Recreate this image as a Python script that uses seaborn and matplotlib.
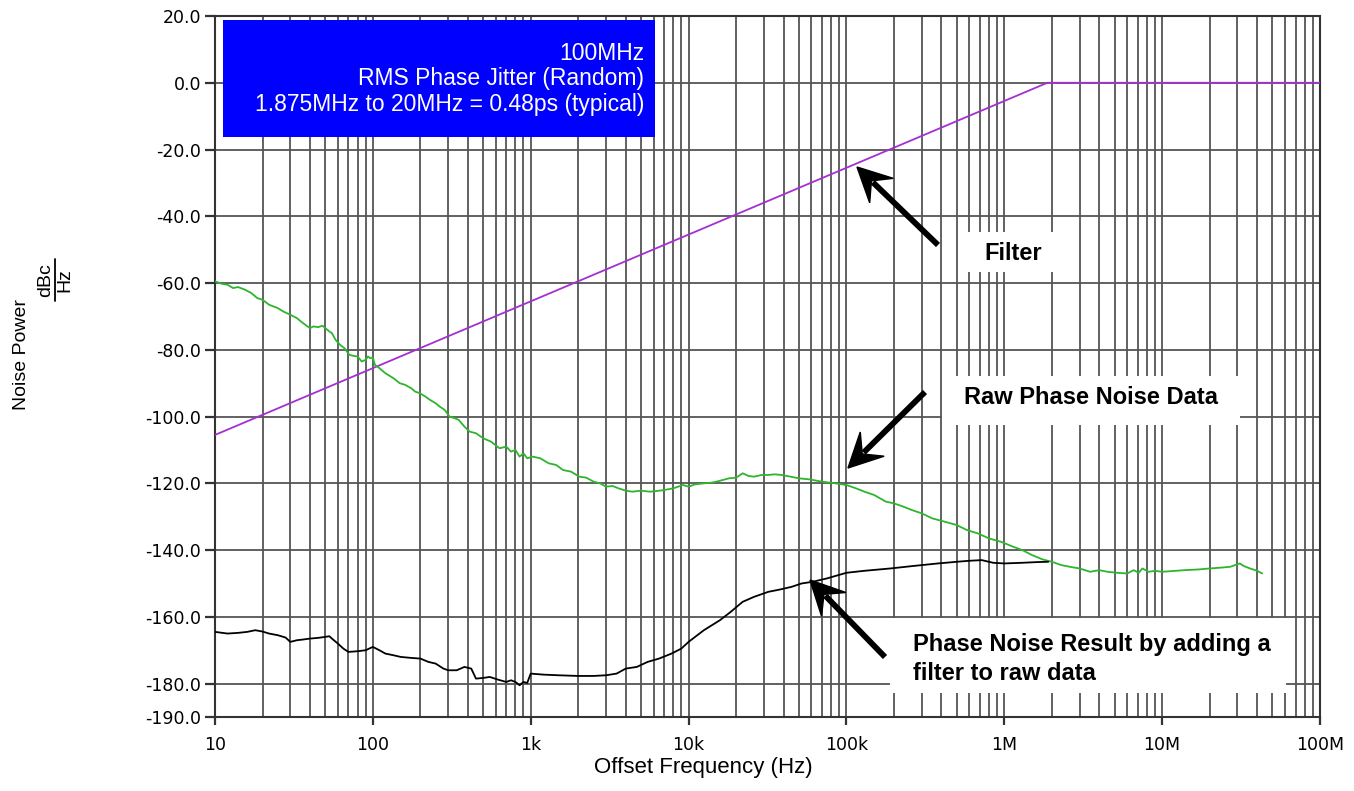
import numpy as np
import pandas as pd
import matplotlib
matplotlib.use("Agg")
import matplotlib.pyplot as plt
import matplotlib.patches as mpatches
import seaborn as sns

# ---------------- data ----------------
raw_freq = [10, 11, 12, 13, 14, 15.5, 17, 18.5, 20, 22, 25, 27, 30, 33, 35, 38, 40, 42, 45, 48,
            50, 53, 55, 58, 62, 66, 71, 75, 80, 85, 90, 93, 96, 100, 103, 110, 120, 135, 148, 160,
            175, 185, 198, 215, 230, 250, 265, 285, 306, 330, 350, 380, 410, 450, 500, 560, 635,
            700, 750, 800, 850, 900, 950, 1030, 1150, 1300, 1450, 1600, 1800, 2030, 2250, 2500,
            2750, 3000, 3300, 3600, 4000, 4400, 5000, 5700, 6300, 7000, 8000, 9200, 10000, 11000,
            12500, 14000, 15000, 16500, 18000, 20000, 22000, 24000, 26000, 29000, 32000, 35000,
            39000, 44000, 50000, 58000, 70000, 85000, 100000, 115000, 130000, 150000, 178000,
            200000, 230000, 260000, 300000, 350000, 420000, 500000, 580000, 680000, 800000,
            950000, 1140000, 1300000, 1500000, 1750000, 2000000, 2300000, 2600000, 3000000,
            3500000, 4000000, 4500000, 5200000, 6000000, 6600000, 7100000, 7500000, 8200000,
            9000000, 10000000, 11500000, 14000000, 17000000, 20000000, 23000000, 27000000,
            29000000, 31000000, 33000000, 36000000, 40000000, 43000000]
raw_db = [-59.5, -60.2, -60.5, -61.5, -61.2, -62, -63, -64.5, -65, -66.5, -67.5, -68.5, -69.5,
          -70.5, -71.5, -72.8, -73.5, -73, -73.2, -72.8, -73.5, -74.5, -75, -77, -78.5, -79.5,
          -81.5, -81.8, -82, -83.5, -83, -82, -82.5, -82.3, -84.5, -85.5, -87, -88.5, -90,
          -90.5, -91.5, -92.5, -93, -94, -95, -96, -97, -98, -100, -100.5, -101, -103, -104.5,
          -105, -106.5, -107.5, -109.5, -109, -110.5, -110, -112, -111, -112.5, -112, -112.5,
          -114, -114.5, -116, -116.5, -118, -118.3, -119.5, -120, -121, -120.8, -121.5, -122.2,
          -122.5, -122.2, -122.5, -122.3, -122, -121.5, -120.5, -121, -120.3, -120, -119.8,
          -119.5, -119, -118.5, -118.3, -117, -117.8, -118, -117.5, -117.5, -117.3, -117.5,
          -118, -118.5, -118.8, -119.5, -120, -120.5, -121.5, -122.5, -123.5, -125.5, -126,
          -127, -128, -129, -130.5, -131.5, -132.5, -134, -135, -136.5, -137.5, -139, -140,
          -141.5, -142.8, -143.5, -144.5, -145, -145.5, -146.5, -146, -146.5, -146.8, -147,
          -146, -146.8, -145.5, -146.5, -146.2, -146.5, -146.3, -146, -145.8, -145.5, -145.3,
          -145, -144.5, -144, -144.8, -145.5, -146.2, -147]

res_freq = [10, 12, 14, 16, 18, 20, 22, 25, 28, 30, 33, 36, 40, 45, 50, 53, 55, 60, 65, 70,
            80, 90, 100, 110, 120, 135, 150, 175, 200, 225, 250, 280, 300, 340, 380, 420, 450,
            500, 550, 620, 700, 750, 800, 850, 900, 950, 1000, 1200, 1500, 2000, 2500, 3000,
            3500, 4000, 4700, 5500, 6500, 7800, 9000, 10000, 12500, 15800, 18500, 22000, 26000,
            32000, 38000, 45000, 52000, 61000, 75000, 100000, 130000, 190000, 260000, 380000,
            500000, 600000, 720000, 850000, 1000000, 1300000, 1600000, 1900000]
res_db = [-164.5, -165, -164.8, -164.5, -164, -164.4, -165, -165.5, -166.2, -167.5, -167,
          -166.8, -166.5, -166.3, -166, -165.8, -166.5, -168, -169.5, -170.5, -170.3, -170,
          -169, -170, -171, -171.5, -172, -172.3, -172.5, -173.5, -174, -175.5, -176, -176,
          -175, -175.5, -178.5, -178.3, -178, -178.8, -179.5, -179, -179.5, -180.5, -179.5,
          -179.8, -177, -177.3, -177.5, -177.7, -177.7, -177.5, -177, -175.5, -175, -173.5,
          -172.5, -171, -169.5, -167.5, -164, -161, -158.5, -155.5, -154, -152.5, -151.8,
          -151, -150, -149.5, -148.5, -146.8, -146.2, -145.5, -144.8, -144, -143.5, -143.2,
          -143, -143.8, -144, -143.8, -143.6, -143.5]

filt_freq = [10, 1875000, 100000000]
filt_db = [-105.5, 0.0, 0.0]

y_ticks = [20, 0, -20, -40, -60, -80, -100, -120, -140, -160, -180, -190]
x_ticks = [10, 100, 1e3, 1e4, 1e5, 1e6, 1e7, 1e8]
x_ticklabels = ["10", "100", "1k", "10k", "100k", "1M", "10M", "100M"]

box_lines = ["100MHz", "RMS Phase Jitter (Random)", "1.875MHz to 20MHz = 0.48ps (typical)"]

df = pd.concat([
    pd.DataFrame({"f": filt_freq, "v": filt_db, "s": "Filter"}),
    pd.DataFrame({"f": raw_freq, "v": raw_db, "s": "Raw"}),
    pd.DataFrame({"f": res_freq, "v": res_db, "s": "Result"}),
])
palette = {"Filter": "#a52fd0", "Raw": "#2db52d", "Result": "#000000"}

# ---------------- figure ----------------
sns.set_style("white")
plt.rcParams["font.family"] = ["DejaVu Sans"]
plt.rcParams["text.color"] = "black"
plt.rcParams["axes.labelcolor"] = "black"
W, H = 1354, 791
fig = plt.figure(figsize=(W / 100, H / 100), dpi=100)
L, R, T, B = 215, 1320, 16, 717
ax = fig.add_axes([L / W, 1 - B / H, (R - L) / W, (B - T) / H])

def fp(x, y):
    return (x / W, 1 - y / H)

sns.lineplot(data=df, x="f", y="v", hue="s", palette=palette, ax=ax, legend=False,
             linewidth=1.3, estimator=None, sort=False, zorder=3)

ax.set_xscale("log")
ax.set_xlim(10, 1e8)
ax.set_ylim(-190, 20)

# grid
grid_c = "#555555"
for dec in range(1, 8):
    for m in range(1, 10):
        xv = m * 10 ** dec
        if 10 < xv < 1e8:
            ax.axvline(xv, color=grid_c, lw=1.3, zorder=1)
for yv in range(0, -181, -20):
    ax.axhline(yv, color=grid_c, lw=1.3, zorder=1)

ax.set_yticks(y_ticks)
ax.set_yticklabels([f"{v:.1f}" for v in y_ticks])
ax.set_xticks(x_ticks)
ax.set_xticklabels(x_ticklabels)
ax.minorticks_off()
ax.tick_params(axis="y", left=True, direction="out", length=7, width=1.6, labelsize=12.5,
               pad=3, color="#333333", labelcolor="black")
ax.tick_params(axis="x", bottom=True, direction="out", length=6, width=1.6, labelsize=12.5,
               pad=8, color="#333333", labelcolor="black")
for sp in ax.spines.values():
    sp.set_color("#333333")
    sp.set_linewidth(1.5)
    sp.set_visible(True)

ax.set_xlabel("")
ax.set_ylabel("")
fig.text(*fp(703, 768), "Offset Frequency (Hz)", ha="center", va="center",
         fontsize=16, family="Liberation Sans")

# y label with fraction
fig.text(*fp(22, 355), "Noise Power", rotation=90, ha="center", va="center",
         fontsize=14, family="Liberation Sans")
fig.text(*fp(46, 280), "dBc", rotation=90, ha="center", va="center",
         fontsize=14, family="Liberation Sans")
fig.text(*fp(65, 280), "Hz", rotation=90, ha="center", va="center",
         fontsize=14, family="Liberation Sans")
fig.add_artist(plt.Line2D([55 / W, 55 / W], [1 - 301 / H, 1 - 259 / H], color="black", lw=1.3))

# blue box
bx0, by0, bx1, by1 = 223, 20, 655, 137
fig.patches.append(plt.Rectangle(fp(bx0, by1), (bx1 - bx0) / W, (by1 - by0) / H,
                                 transform=fig.transFigure, facecolor="#0000ff",
                                 edgecolor="none", zorder=5))
for i, line in enumerate(box_lines):
    fig.text(*fp(644, 53 + 26 * i), line, ha="right", va="center", color="white",
             fontsize=16.5, family="Liberation Sans", zorder=6)

# white annotation boxes
def wbox(x0, y0, x1, y1):
    fig.patches.append(plt.Rectangle(fp(x0, y1), (x1 - x0) / W, (y1 - y0) / H,
                                     transform=fig.transFigure, facecolor="white",
                                     edgecolor="none", zorder=5))

afont = dict(fontsize=17, fontweight="bold", family="Liberation Sans", zorder=6)
wbox(966, 232, 1056, 272)
fig.text(*fp(1013, 253), "Filter", ha="center", va="center", **afont)
wbox(942, 376, 1240, 425)
fig.text(*fp(1091, 398), "Raw Phase Noise Data", ha="center", va="center", **afont)
wbox(890, 618, 1286, 693)
fig.text(*fp(913, 645), "Phase Noise Result by adding a", ha="left", va="center", **afont)
fig.text(*fp(913, 673), "filter to raw data", ha="left", va="center", **afont)

# arrows (drawn in reference pixel coordinates)
def arrow(x0, y0, x1, y1):
    tail = np.array([x0, y0], float)
    tip = np.array([x1, y1], float)
    u = (tip - tail) / np.hypot(*(tip - tail))
    n = np.array([-u[1], u[0]])
    hl, hw, notch = 34, 17, 20
    pts = [tip, tip - hl * u + hw * n, tip - notch * u, tip - hl * u - hw * n]
    poly = [fp(*p) for p in pts]
    fig.patches.append(mpatches.Polygon(poly, closed=True, transform=fig.transFigure,
                                        facecolor="black", edgecolor="black", lw=1, zorder=7))
    end = tip - (notch + 2) * u
    fig.add_artist(plt.Line2D([x0 / W, end[0] / W], [1 - y0 / H, 1 - end[1] / H],
                              color="black", lw=4.2, solid_capstyle="butt", zorder=7))

arrow(938, 245, 857, 167)
arrow(925, 392, 848, 468)
arrow(885, 657, 810, 580)

fig.savefig("out.png", dpi=100)
